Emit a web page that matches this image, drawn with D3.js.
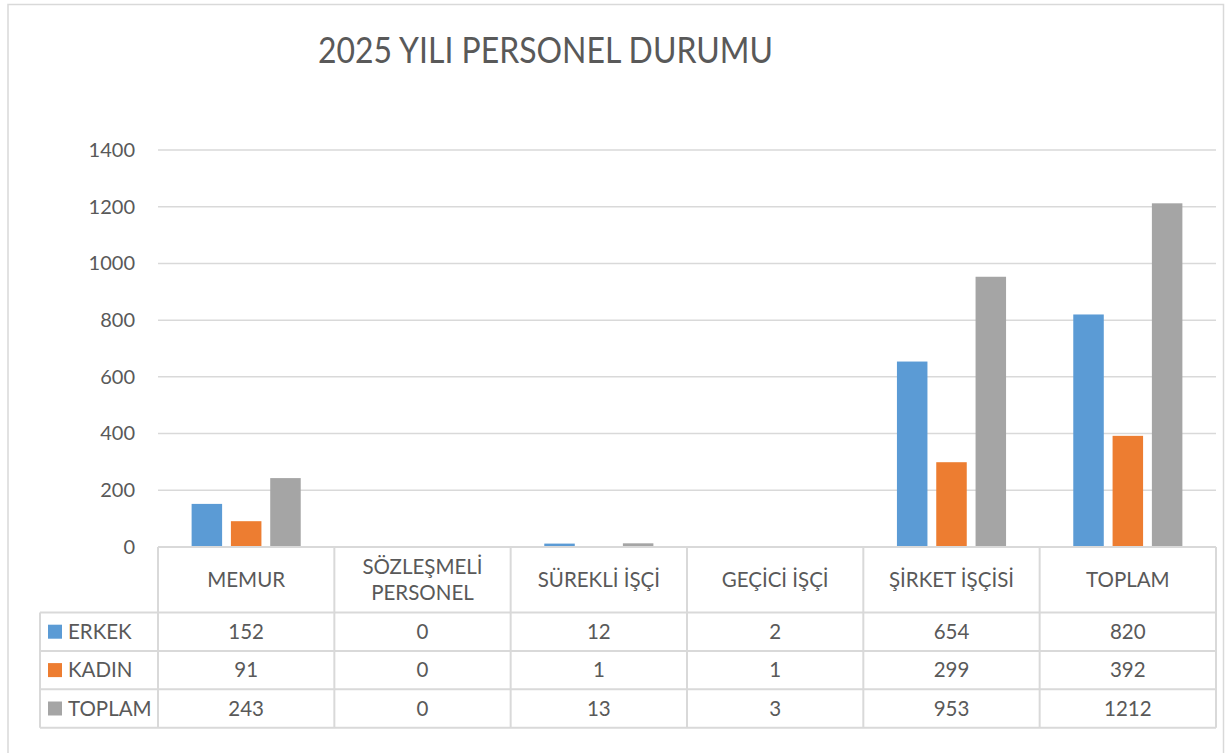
<!DOCTYPE html>
<html>
<head>
<meta charset="utf-8">
<script src="https://cdn.jsdelivr.net/npm/d3@7"></script>
<style>
  body { margin: 0; background: #fff; }
  svg { display: block; font-family: Lato, "Open Sans", sans-serif; }
</style>
</head>
<body>
<script>
// chart data
var title = "2025 YILI PERSONEL DURUMU";
var categories = ["MEMUR", "SÖZLEŞMELİ PERSONEL", "SÜREKLİ İŞÇİ", "GEÇİCİ İŞÇİ", "ŞİRKET İŞÇİSİ", "TOPLAM"];
var seriesNames = ["ERKEK", "KADIN", "TOPLAM"];
var erkek = [152, 0, 12, 2, 654, 820];
var kadin = [91, 0, 1, 1, 299, 392];
var toplam = [243, 0, 13, 3, 953, 1212];
var yTicks = [0, 200, 400, 600, 800, 1000, 1200, 1400];
var colors = ["#5B9BD5", "#ED7D31", "#A5A5A5"];

var series = [erkek, kadin, toplam];

var width = 1226, height = 753;
var textColor = "#595959", lineColor = "#D9D9D9";

var svg = d3.select("body").append("svg")
	.attr("width", width)
	.attr("height", height);

// outer chart border
svg.append("rect")
	.attr("x", 8).attr("y", 4.5)
	.attr("width", 1215.5).attr("height", 760)
	.attr("fill", "#fff")
	.attr("stroke", lineColor)
	.attr("stroke-width", 1.5);

// title
svg.append("text")
	.attr("x", 318).attr("y", 63)
	.attr("fill", textColor)
	.attr("font-size", 37)
	.attr("textLength", 455)
	.attr("lengthAdjust", "spacingAndGlyphs")
	.text(title);

// scales
var plotLeft = 158, plotRight = 1216, plotTop = 150, plotBottom = 547;
var x = d3.scaleBand()
	.domain(categories)
	.range([plotLeft, plotRight]);
var xInner = d3.scaleBand()
	.domain(seriesNames)
	.range([0, x.bandwidth()])
	.paddingInner(0.224)
	.paddingOuter(0.855);
var y = d3.scaleLinear()
	.domain([0, 1400])
	.range([plotBottom, plotTop]);

// gridlines
svg.append("g").selectAll("line")
	.data(yTicks)
	.join("line")
	.attr("x1", plotLeft).attr("x2", plotRight)
	.attr("y1", function(d) { return y(d); })
	.attr("y2", function(d) { return y(d); })
	.attr("stroke", lineColor)
	.attr("stroke-width", 1.5);

// y axis labels
var yAxis = svg.append("g")
	.attr("transform", "translate(" + plotLeft + ",0)")
	.call(d3.axisLeft(y).tickValues(yTicks).tickSize(0).tickPadding(23).tickFormat(d3.format("d")));
yAxis.select(".domain").remove();
yAxis.selectAll("text")
	.attr("fill", textColor)
	.attr("font-size", 20)
	.attr("font-family", "Lato, sans-serif");

// bars
var groups = svg.append("g").selectAll("g")
	.data(seriesNames)
	.join("g")
	.attr("fill", function(d, i) { return colors[i]; });

groups.selectAll("rect")
	.data(function(name, i) {
		return series[i].map(function(v, j) { return { cat: categories[j], name: name, value: v }; });
	})
	.join("rect")
	.attr("x", function(d) { return x(d.cat) + xInner(d.name); })
	.attr("width", xInner.bandwidth())
	.attr("y", function(d) { return y(d.value); })
	.attr("height", function(d) { return plotBottom - y(d.value); });

// data table
var headerBottom = 612.5, rowH = 38.4, legendLeft = 40;
var tableBottom = headerBottom + rowH * seriesNames.length;
var table = svg.append("g");

// horizontal lines
table.append("line")
	.attr("x1", plotLeft).attr("x2", plotRight)
	.attr("y1", plotBottom).attr("y2", plotBottom);
seriesNames.forEach(function(s, i) {
	var yy = headerBottom + rowH * i;
	table.append("line")
		.attr("x1", legendLeft).attr("x2", plotRight)
		.attr("y1", yy).attr("y2", yy);
});
table.append("line")
	.attr("x1", legendLeft).attr("x2", plotRight)
	.attr("y1", tableBottom).attr("y2", tableBottom);

// vertical lines
table.append("line")
	.attr("x1", legendLeft).attr("x2", legendLeft)
	.attr("y1", headerBottom).attr("y2", tableBottom);
categories.forEach(function(c) {
	table.append("line")
		.attr("x1", x(c)).attr("x2", x(c))
		.attr("y1", plotBottom).attr("y2", tableBottom);
});
table.append("line")
	.attr("x1", plotRight).attr("x2", plotRight)
	.attr("y1", plotBottom).attr("y2", tableBottom);
table.selectAll("line")
	.attr("stroke", lineColor)
	.attr("stroke-width", 2);

// header labels, wrapped when too wide
var headers = table.append("g").selectAll("text")
	.data(categories)
	.join("text")
	.attr("x", function(d) { return x(d) + x.bandwidth() / 2; })
	.attr("text-anchor", "middle")
	.attr("fill", textColor)
	.attr("font-size", 20.5);
headers.each(function(d) {
	var t = d3.select(this);
	var cx = x(d) + x.bandwidth() / 2;
	var cy = (plotBottom + headerBottom) / 2;
	t.text(d);
	if (this.getComputedTextLength() > x.bandwidth() - 20) {
		var words = d.split(" ");
		t.text(null);
		var lh = 26;
		words.forEach(function(w, k) {
			t.append("tspan")
				.attr("x", cx)
				.attr("y", cy + (k - (words.length - 1) / 2) * lh)
				.attr("dy", "0.35em")
				.text(w);
		});
	} else {
		t.attr("y", cy).attr("dy", "0.35em");
	}
});

// table rows: legend key, name and values
seriesNames.forEach(function(name, i) {
	var cy = headerBottom + rowH * i + rowH / 2;
	table.append("rect")
		.attr("x", 48).attr("y", cy - 7)
		.attr("width", 14).attr("height", 14)
		.attr("fill", colors[i]);
	table.append("text")
		.attr("x", 68).attr("y", cy).attr("dy", "0.35em")
		.attr("fill", textColor)
		.attr("font-size", 20.5)
		.text(name);
	table.append("g").selectAll("text")
		.data(series[i])
		.join("text")
		.attr("x", function(d, j) { return x(categories[j]) + x.bandwidth() / 2; })
		.attr("y", cy).attr("dy", "0.35em")
		.attr("text-anchor", "middle")
		.attr("fill", textColor)
		.attr("font-size", 20.5)
		.text(function(d) { return d; });
});
</script>
</body>
</html>
